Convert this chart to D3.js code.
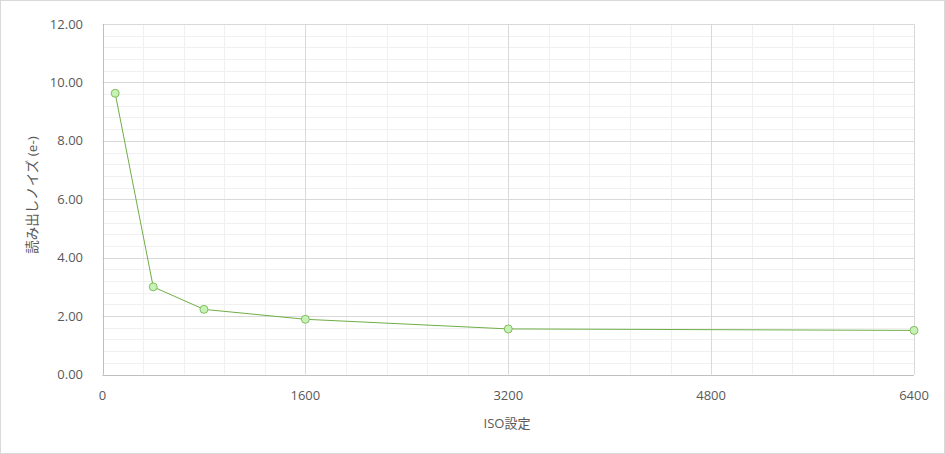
<!DOCTYPE html>
<html>
<head>
<meta charset="utf-8">
<script src="https://cdn.jsdelivr.net/npm/d3@7"></script>
<style>
  body { margin: 0; background: #fff; }
  svg text { font-family: "Open Sans", "Noto Sans CJK JP", sans-serif; fill: #595959; }
</style>
</head>
<body>
<div id="chart"></div>
<script>
  // data
  var isoValues = [100, 400, 800, 1600, 3200, 6400];
  var noiseValues = [9.63, 3.0, 2.23, 1.89, 1.56, 1.51];
  var xTicks = [0, 1600, 3200, 4800, 6400];
  var yTicks = [0, 2, 4, 6, 8, 10, 12];

  var width = 945, height = 454;
  var margin = { left: 102.5, right: 31, top: 24, bottom: 79.5 };

  var svg = d3.select('#chart')
    .append('svg')
    .attr('width', width)
    .attr('height', height);

  // outer chart border
  svg.append('rect')
    .attr('x', 0.5).attr('y', 0.5)
    .attr('width', width - 1).attr('height', height - 1)
    .attr('fill', '#fff')
    .attr('stroke', '#d9d9d9');

  var x = d3.scaleLinear().domain([0, 6400]).range([margin.left, width - margin.right]);
  var y = d3.scaleLinear().domain([0, 12]).range([height - margin.bottom, margin.top]);

  var g = svg.append('g');

  // minor grid
  g.selectAll('.vminor').data(d3.range(0, 6401, 320))
    .enter().append('line')
    .attr('x1', function(d) { return Math.round(x(d)) + 0.5; })
    .attr('x2', function(d) { return Math.round(x(d)) + 0.5; })
    .attr('y1', y(12)).attr('y2', y(0))
    .attr('stroke', '#f0f0f0');
  g.selectAll('.hminor').data(d3.range(0, 12.01, 0.4))
    .enter().append('line')
    .attr('y1', function(d) { return Math.round(y(d)) + 0.5; })
    .attr('y2', function(d) { return Math.round(y(d)) + 0.5; })
    .attr('x1', x(0)).attr('x2', x(6400))
    .attr('stroke', '#f0f0f0');

  // major grid
  g.selectAll('.vmajor').data(xTicks)
    .enter().append('line')
    .attr('x1', function(d) { return Math.round(x(d)) + 0.5; })
    .attr('x2', function(d) { return Math.round(x(d)) + 0.5; })
    .attr('y1', y(12)).attr('y2', y(0))
    .attr('stroke', '#d9d9d9');
  g.selectAll('.hmajor').data(yTicks)
    .enter().append('line')
    .attr('y1', function(d) { return Math.round(y(d)) + 0.5; })
    .attr('y2', function(d) { return Math.round(y(d)) + 0.5; })
    .attr('x1', x(0)).attr('x2', x(6400))
    .attr('stroke', '#d9d9d9');

  // axis lines
  g.append('line')
    .attr('x1', Math.round(x(0)) + 0.5).attr('x2', Math.round(x(0)) + 0.5)
    .attr('y1', y(12)).attr('y2', y(0))
    .attr('stroke', '#bfbfbf');
  g.append('line')
    .attr('x1', x(0)).attr('x2', x(6400))
    .attr('y1', Math.round(y(0)) + 0.5).attr('y2', Math.round(y(0)) + 0.5)
    .attr('stroke', '#bfbfbf');

  // tick labels
  g.selectAll('.ylab').data(yTicks)
    .enter().append('text')
    .attr('x', 83)
    .attr('y', function(d) { return y(d) + 4.5; })
    .attr('text-anchor', 'end')
    .style('font-size', '13px')
    .text(function(d) { return d3.format('.2f')(d); });
  g.selectAll('.xlab').data(xTicks)
    .enter().append('text')
    .attr('x', function(d) { return x(d); })
    .attr('y', 400)
    .attr('text-anchor', 'middle')
    .style('font-size', '13px')
    .text(function(d) { return d; });

  // axis titles
  svg.append('text')
    .attr('x', 507).attr('y', 428)
    .attr('text-anchor', 'middle')
    .style('font-size', '13px')
    .text('ISO設定');
  svg.append('text')
    .attr('transform', 'translate(37,195) rotate(-90)')
    .attr('text-anchor', 'middle')
    .style('font-size', '13.5px')
    .text('読み出しノイズ (e-)');

  // series
  var data = isoValues.map(function(v, i) { return { iso: v, noise: noiseValues[i] }; });
  var line = d3.line()
    .x(function(d) { return x(d.iso); })
    .y(function(d) { return y(d.noise); });

  g.append('path')
    .datum(data)
    .attr('d', line)
    .attr('fill', 'none')
    .attr('stroke', '#70ad47')
    .attr('stroke-width', 1);

  g.selectAll('.pt').data(data)
    .enter().append('circle')
    .attr('cx', function(d) { return x(d.iso); })
    .attr('cy', function(d) { return y(d.noise); })
    .attr('r', 4)
    .attr('fill', '#c5f3b6')
    .attr('stroke', '#70ad47')
    .attr('stroke-width', 0.8);
</script>
</body>
</html>
